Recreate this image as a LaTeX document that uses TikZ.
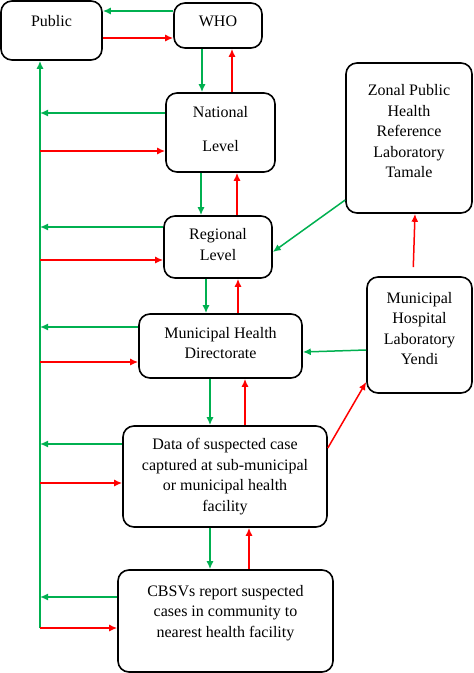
\documentclass[tikz,border=0pt]{standalone}
\usepackage{fontspec}
\setmainfont{Liberation Serif}
\usepackage{xcolor}
\usetikzlibrary{arrows.meta,positioning}

\definecolor{flowgreen}{RGB}{0,176,80}
\definecolor{flowred}{RGB}{255,0,0}

\tikzset{
  level box/.style={draw, rounded corners=11pt, line width=1.6pt, align=center, inner sep=0pt,
    font=\fontsize{16}{20.5}\selectfont},
  down flow/.style={->, draw=flowgreen, line width=1.5pt},
  up flow/.style={->, draw=flowred, line width=1.5pt}
}

\begin{document}
\begin{tikzpicture}[x=1pt, y=-1pt, >={Latex[length=8pt,width=7pt]}]
      \useasboundingbox (0,0) rectangle (474,673);

      \node[level box, minimum width=101pt, minimum height=59pt, text depth=20pt] (pub) at (51.5,30.5) {Public};
      \node[level box, minimum width=88pt, minimum height=45pt, text depth=9pt] (who) at (218,25.5) {WHO};
      \node[level box, minimum width=109pt, minimum height=79pt, text depth=7pt] (nat) at (220.5,132.5) {National\\[14pt]Level};
      \node[level box, minimum width=108pt, minimum height=62pt, text depth=5pt] (reg) at (218,247) {Regional\\Level};
      \node[level box, minimum width=163pt, minimum height=64pt, text depth=6pt] (mhd) at (220.5,346) {Municipal Health\\Directorate};
      \node[level box, minimum width=204pt, minimum height=101pt] (dat) at (225,476.5) {Data of suspected case\\captured at sub-municipal\\or municipal health\\facility};
      \node[level box, minimum width=215pt, minimum height=102pt, text depth=20pt] (cbs) at (225.5,621) {CBSVs report suspected\\cases in community to\\nearest health facility};
      \node[level box, minimum width=126pt, minimum height=150pt, text depth=14pt] (zon) at (409,138) {Zonal Public\\Health\\Reference\\Laboratory\\Tamale};
      \node[level box, minimum width=105pt, minimum height=116pt, text depth=13pt] (yen) at (419.5,335) {Municipal\\Hospital\\Laboratory\\Yendi};

      % feedback line to the public
      \coordinate (bot) at (40,628);
      \draw[down flow] (bot) -- (pub.south -| bot);

      % WHO and public
      \draw[down flow] ([yshift=14.5pt]who.west) -- ([yshift=14.5pt]who.west -| pub.east);
      \draw[up flow] ([yshift=-7.5pt]pub.east) -- ([yshift=-7.5pt]pub.east -| who.west);

      % vertical chain
      \draw[down flow] ([xshift=-16pt]who.south) -- ([xshift=-16pt]who.south |- nat.north);
      \draw[up flow] ([xshift=11.5pt]nat.north) -- ([xshift=11.5pt]nat.north |- who.south);
      \draw[down flow] ([xshift=-19.5pt]nat.south) -- ([xshift=-19.5pt]nat.south |- reg.north);
      \draw[up flow] ([xshift=19pt]reg.north) -- ([xshift=19pt]reg.north |- nat.south);
      \draw[down flow] ([xshift=-12pt]reg.south) -- ([xshift=-12pt]reg.south |- mhd.north);
      \draw[up flow] ([xshift=17.5pt]mhd.north) -- ([xshift=17.5pt]mhd.north |- reg.south);
      \draw[down flow] ([xshift=-10.5pt]mhd.south) -- ([xshift=-10.5pt]mhd.south |- dat.north);
      \draw[up flow] ([xshift=20pt]dat.north) -- ([xshift=20pt]dat.north |- mhd.south);
      \draw[down flow] ([xshift=-15pt]dat.south) -- ([xshift=-15pt]dat.south |- cbs.north);
      \draw[up flow] ([xshift=23.5pt]cbs.north) -- ([xshift=23.5pt]cbs.north |- dat.south);

      % to and from the public line
      \draw[down flow] ([yshift=19.5pt]nat.west) -- ([yshift=19.5pt]nat.west -| bot);
      \draw[up flow] ([yshift=-18.5pt]nat.west -| bot) -- ([yshift=-18.5pt]nat.west);
      \draw[down flow] ([yshift=20pt]reg.west) -- ([yshift=20pt]reg.west -| bot);
      \draw[up flow] ([yshift=-13pt]reg.west -| bot) -- ([yshift=-13pt]reg.west);
      \draw[down flow] ([yshift=19pt]mhd.west) -- ([yshift=19pt]mhd.west -| bot);
      \draw[up flow] ([yshift=-16pt]mhd.west -| bot) -- ([yshift=-16pt]mhd.west);
      \draw[down flow] ([yshift=32.5pt]dat.west) -- ([yshift=32.5pt]dat.west -| bot);
      \draw[up flow] ([yshift=-6.5pt]dat.west -| bot) -- ([yshift=-6.5pt]dat.west);
      \draw[down flow] ([yshift=24pt]cbs.west) -- ([yshift=24pt]cbs.west -| bot);
      \draw[up flow] (bot) -- (bot -| cbs.west);

      % laboratories
      \draw[down flow] ([yshift=-62pt]zon.west) -- ([yshift=-5pt]reg.east);
      \draw[down flow] ([yshift=-15pt]yen.west) -- ([yshift=-6pt]mhd.east);
      \draw[up flow, shorten <=9pt] ([xshift=-6.5pt]yen.north) -- ([xshift=6pt]zon.south);
      \draw[up flow] ([yshift=28.5pt]dat.east) -- ([yshift=-47pt]yen.west);
\end{tikzpicture}
\end{document}
